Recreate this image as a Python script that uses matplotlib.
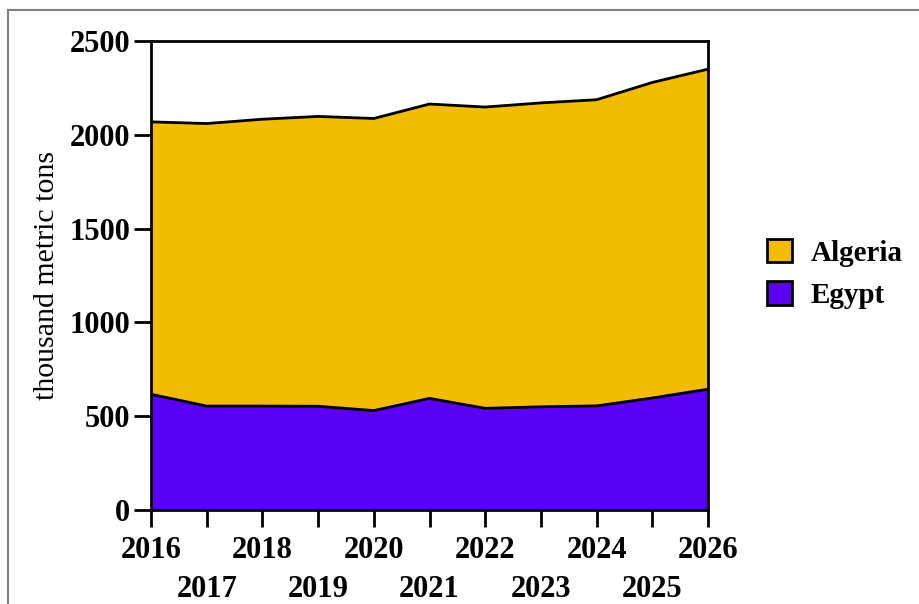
import matplotlib
matplotlib.use("Agg")
import matplotlib.pyplot as plt
from matplotlib.patches import Patch
from matplotlib.lines import Line2D
import numpy as np

years = [2016, 2017, 2018, 2019, 2020, 2021, 2022, 2023, 2024, 2025, 2026]
egypt = [617, 554, 554, 553, 530, 595, 542, 550, 555, 597, 644]
algeria = [1452, 1506, 1529, 1545, 1557, 1569, 1606, 1620, 1632, 1682, 1706]
yticks = [0, 500, 1000, 1500, 2000, 2500]
ylabel = "thousand metric tons"
series_names = ["Algeria", "Egypt"]
colors = {"Algeria": "#F2BC00", "Egypt": "#5A00F5"}

plt.rcParams['font.family'] = ['Liberation Serif', 'DejaVu Serif']

fig = plt.figure(figsize=(9.19, 6.04), dpi=100)
ax = fig.add_axes([151/919, 94/604, (708-151)/919, (510-41)/604])

x = np.array(years)
eg = np.array(egypt)
tot = eg + np.array(algeria)

ax.fill_between(x, 0, eg, color=colors["Egypt"], linewidth=0)
ax.fill_between(x, eg, tot, color=colors["Algeria"], linewidth=0)
ax.plot(x, eg, color="black", lw=2)
ax.plot(x, tot, color="black", lw=2)

ax.set_xlim(2016, 2026)
ax.set_ylim(0, 2500)
ax.set_yticks(yticks)
ax.set_yticklabels([str(v) for v in yticks], fontsize=22, fontweight='bold')
ax.set_xticks(years)
ax.set_xticklabels([str(y) if y % 2 == 0 else "\n" + str(y) for y in years],
                   fontsize=22, fontweight='bold', linespacing=1.45)
for sp in ax.spines.values():
    sp.set_linewidth(2)
    sp.set_color("black")
ax.tick_params(axis='both', direction='out', length=12, width=2, pad=3)
ax.tick_params(axis='x', pad=7)
ax.set_ylabel(ylabel, fontsize=21.5, labelpad=7)

handles = [Patch(facecolor=colors[n], edgecolor='black', linewidth=2) for n in series_names]
leg = fig.legend(handles, series_names, loc='upper left',
                 bbox_to_anchor=(767/919, 1 - 239/604), frameon=False,
                 borderpad=0, borderaxespad=0,
                 prop={'family': 'Liberation Serif', 'weight': 'bold', 'size': 21},
                 handlelength=0.85, handleheight=0.85, handletextpad=0.65, labelspacing=0.5)

# outer gray frame
fig.add_artist(Line2D([8/919, 8/919], [0, 1 - 10/604], color='#808080', lw=1.5,
                      transform=fig.transFigure))
fig.add_artist(Line2D([8/919, 1], [1 - 10/604, 1 - 10/604], color='#808080', lw=1.5,
                      transform=fig.transFigure))

fig.savefig("out.png", dpi=100)
